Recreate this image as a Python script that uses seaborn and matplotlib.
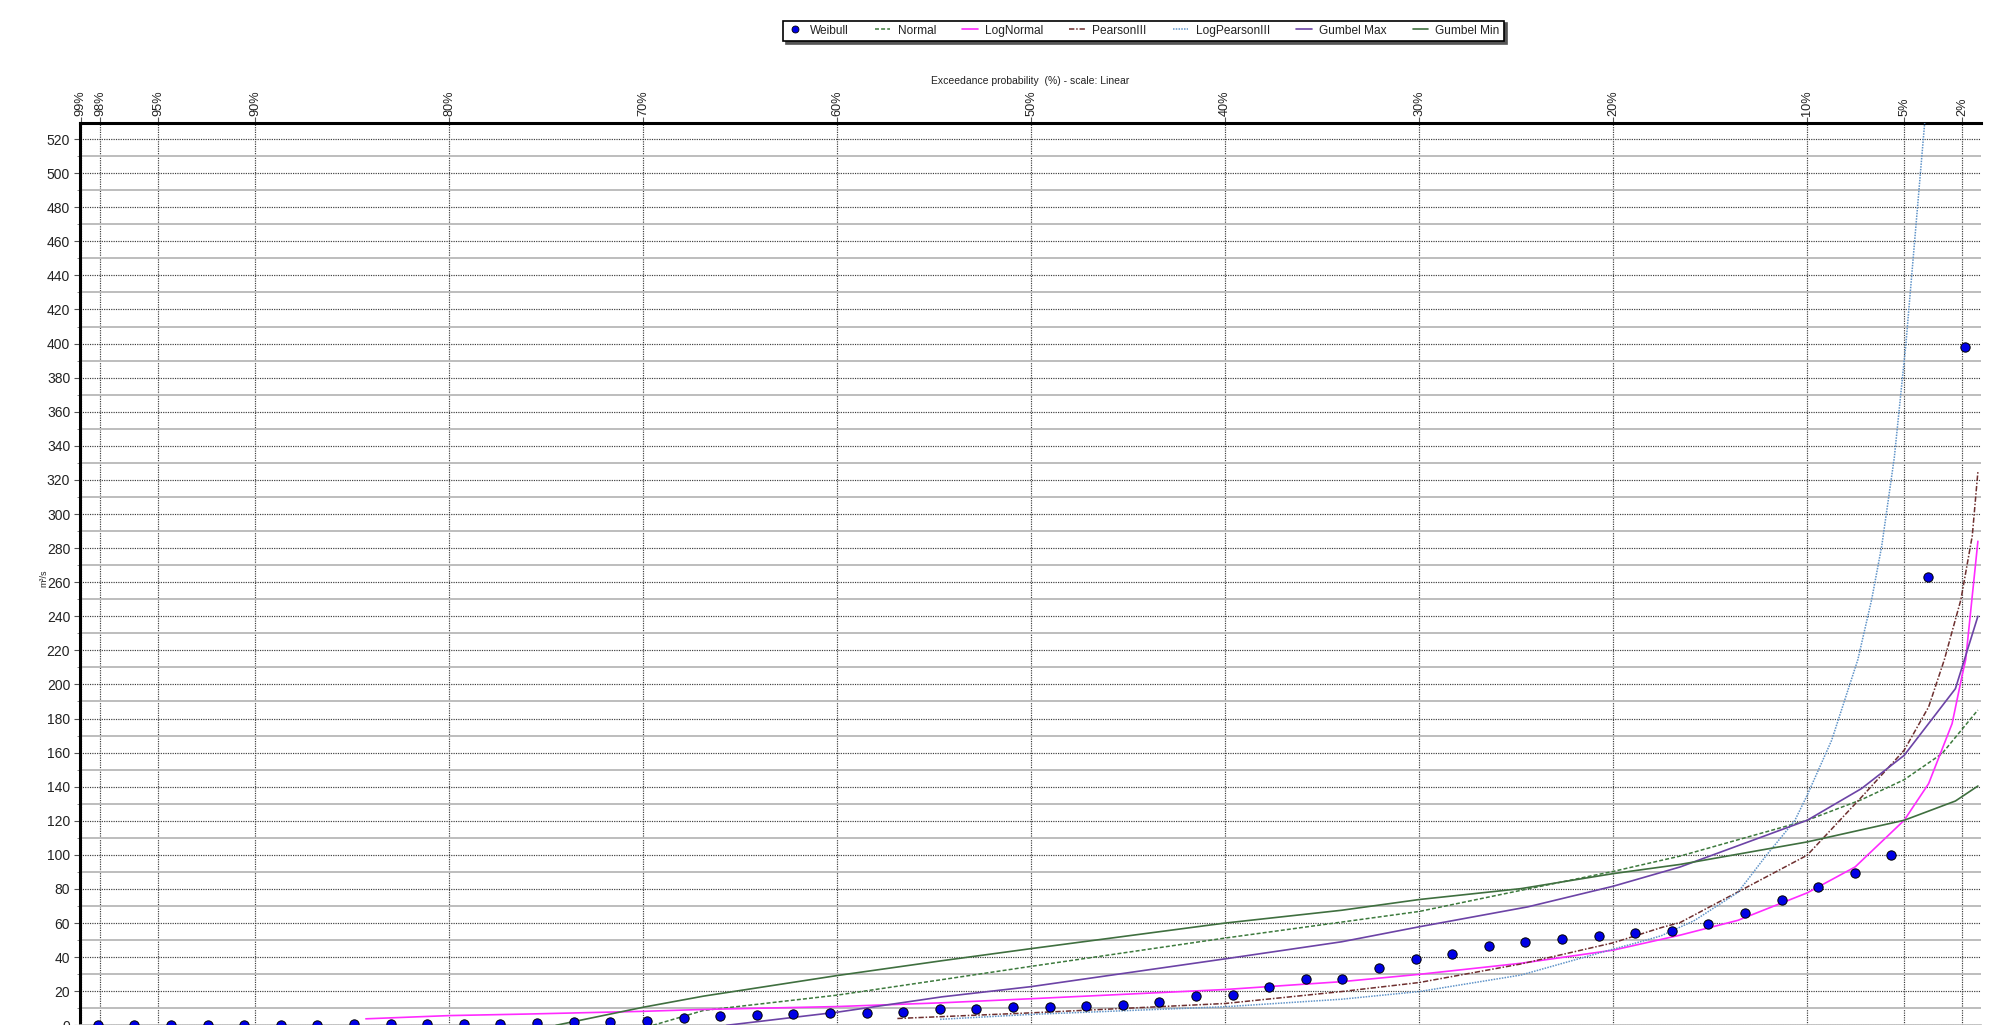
import matplotlib
matplotlib.use("Agg")
import matplotlib.pyplot as plt
from matplotlib.lines import Line2D
import seaborn as sns

# Ranked observed flows (m³/s), largest first; Weibull plotting position m/(n+1)
weibull_q = [398, 263, 100, 89.5, 81.3, 73.6, 66, 59.2, 55.1, 54.3, 52.3, 50.8,
             48.8, 46.8, 42, 39, 33.6, 27.4, 27.4, 22.7, 17.7, 17, 13.5, 12.2,
             11.5, 11, 11, 9.4, 9.4, 7.9, 7.3, 7.3, 6.7, 6.0, 5.3, 4, 2.5, 2,
             2, 1.3, 1, 1, 1, 1, 1, 0, 0, 0, 0, 0, 0, 0]
n_obs = len(weibull_q)
weibull_p = [100.0 * (m + 1) / (n_obs + 1) for m in range(n_obs)]

# Fitted distributions: exceedance probability (%) and flow (m³/s)
normal_p = [69.5, 66.9, 60, 54.6, 50, 40, 30, 24.75, 20, 16.55, 10, 7.2, 5, 3.05, 1.2]
normal_q = [0, 8.7, 17.7, 26.8, 34.6, 51.2, 66.8, 79.2, 90.3, 99.3, 120.3, 132.4, 144.1, 159.4, 185]

lognormal_p = [84.3, 80, 76, 70, 66.9, 60, 54.6, 50, 40, 34, 30, 24.75, 20, 16.55,
               13.57, 10, 7.53, 5, 3.74, 2.53, 2.0, 1.83, 1.2]
lognormal_q = [3.8, 5.7, 6.6, 8.2, 9.3, 11, 13.2, 15.6, 21, 25.6, 29.9, 36.4, 44.1, 52.9,
               61.6, 77.7, 92.9, 120.3, 141.8, 177, 206, 214.5, 284]

pearson3_p = [56.9, 50, 40, 34, 30, 24.75, 20, 17.53, 16.55, 10, 7.19, 5, 3.74, 2.93,
              2.08, 1.49, 1.2]
pearson3_q = [4.0, 7.3, 12.8, 19.8, 25.1, 36, 48.4, 57.3, 60.3, 99.8, 134, 161.4, 186.8,
              214.5, 249.6, 287.2, 324.8]

logpearson3_p = [54.7, 50, 40, 34, 30, 24.75, 20.48, 18.6, 17.53, 15.81, 13.57, 12.1,
                 10.64, 10, 8.74, 7.39, 6.68, 6.16, 5.51, 4.91, 3.94]
logpearson3_q = [3.5, 6.4, 10.9, 15.3, 19.8, 29.5, 43.2, 49, 52.5, 61.5, 78, 99.8,
                 120.1, 135, 167.2, 214.5, 249.6, 281, 333, 400, 530]

gumbel_max_p = [65.7, 60, 54.6, 50, 40, 34, 30, 24.4, 20, 16.55, 10, 7.2, 5, 2.36, 1.2]
gumbel_max_q = [0, 7.7, 16.7, 22.7, 39, 49, 57.8, 69.5, 81.6, 92.9, 120.3, 138.9, 158.4, 197.5, 240]

gumbel_min_p = [74.5, 70, 66.9, 60, 54.6, 50, 40, 34, 30, 24.75, 20, 16.55, 10, 5, 2.36, 1.2]
gumbel_min_q = [0, 10.6, 17.1, 29.2, 37.9, 45, 60, 67.5, 73.8, 80.2, 89, 94.4, 107.6, 120.3, 131.6, 140.4]

x_ticks = [99, 98, 95, 90, 80, 70, 60, 50, 40, 30, 20, 10, 5, 2]
x_tick_labels = [f"{t}%" for t in x_ticks]
y_ticks = list(range(0, 521, 20))
y_minor = list(range(10, 530, 20))

sns.set_theme(style="white")
plt.rcParams["font.family"] = ["Liberation Sans", "DejaVu Sans"]

W, H = 2005, 1025
fig = plt.figure(figsize=(W / 100, H / 100), dpi=100)
ax_l, ax_r, ax_t, ax_b = 79.9, 1981.0, 122.7, 1025.3
ax = fig.add_axes([ax_l / W, 1 - ax_b / H, (ax_r - ax_l) / W, (ax_b - ax_t) / H])

series = [
    ("Normal", normal_p, normal_q, dict(color="#3d7a3d", linestyle=(0, (2.6, 1.4)), linewidth=1.1)),
    ("LogNormal", lognormal_p, lognormal_q, dict(color="#ff2bff", linestyle="-", linewidth=1.2)),
    ("PearsonIII", pearson3_p, pearson3_q, dict(color="#6e2f2f", linestyle=(0, (3.5, 1.2, 1, 1.2)), linewidth=1.1)),
    ("LogPearsonIII", logpearson3_p, logpearson3_q, dict(color="#5f93c8", linestyle=(0, (1, 0.8)), linewidth=1.1)),
    ("Gumbel Max", gumbel_max_p, gumbel_max_q, dict(color="#6c43a6", linestyle="-", linewidth=1.2)),
    ("Gumbel Min", gumbel_min_p, gumbel_min_q, dict(color="#3f6f3f", linestyle="-", linewidth=1.2)),
]

for name, p, q, style in series:
    sns.lineplot(x=p, y=q, ax=ax, estimator=None, sort=False, zorder=3, **style)

sns.scatterplot(x=weibull_p, y=weibull_q, ax=ax, color="#0000e6", edgecolor="black",
                linewidth=0.7, s=45, zorder=5, clip_on=True)

ax.set_xlim(99.04, 1.04)
ax.set_ylim(0, 529.6)

ax.xaxis.tick_top()
ax.set_xticks(x_ticks)
ax.set_xticklabels(x_tick_labels, rotation=90)
ax.set_yticks(y_ticks)
ax.set_yticks(y_minor, minor=True)
ax.set_yticklabels([str(v) for v in y_ticks])

ax.tick_params(axis="x", which="major", top=True, bottom=False, labeltop=True,
               labelbottom=False, direction="out", length=4, width=0.8, pad=1,
               labelsize=9.2, colors="#555555", labelcolor="#222222")
ax.tick_params(axis="y", which="major", left=True, direction="out", length=4,
               width=0.8, pad=3, labelsize=10, colors="#555555", labelcolor="#222222")
ax.tick_params(axis="y", which="minor", left=True, direction="out", length=2,
               width=0.6, colors="#777777")

ax.set_axisbelow(True)
ax.grid(which="major", axis="y", color="#3c3c3c", linestyle=(0, (1, 1)), linewidth=0.85)
ax.grid(which="minor", axis="y", color="#bdbdbd", linestyle="-", linewidth=1.4)
ax.grid(which="major", axis="x", color="#3c3c3c", linestyle=(0, (1, 1)), linewidth=0.85)

for side in ("left", "top"):
    ax.spines[side].set_color("black")
    ax.spines[side].set_linewidth(2.2)
ax.spines["right"].set_visible(False)
ax.spines["bottom"].set_color("#bbbbbb")
ax.spines["bottom"].set_linewidth(1.2)

ax.set_xlabel("Exceedance probability  (%) - scale: Linear", fontsize=7.5,
              color="#222222", va="center")
ax.xaxis.set_label_position("top")
ax.xaxis.set_label_coords(0.5, (ax_b - 84) / (ax_b - ax_t))
ax.set_ylabel("m³/s", fontsize=6.5, color="#222222", va="center")
ax.yaxis.set_label_coords((43.5 - ax_l) / (ax_r - ax_l), (ax_b - 578) / (ax_b - ax_t))

handles = [Line2D([], [], marker="o", linestyle="none", markerfacecolor="#0000e6",
                  markeredgecolor="black", markersize=5, markeredgewidth=0.6)]
labels = ["Weibull"]
for name, p, q, style in series:
    handles.append(Line2D([], [], **style))
    labels.append(name)

leg = ax.legend(handles, labels, ncol=7, loc="upper left",
                bbox_to_anchor=(783 / W, 1 - 20.5 / H), bbox_transform=fig.transFigure,
                frameon=True, fancybox=False, shadow={"color": "#555555", "alpha": 1.0},
                borderaxespad=0, fontsize=8.6, handlelength=1.3, handletextpad=0.6,
                columnspacing=2.2, borderpad=0.35)
leg.get_frame().set_edgecolor("black")
leg.get_frame().set_linewidth(1.2)
leg.get_frame().set_facecolor("white")
for t in leg.get_texts():
    t.set_color("#222222")

fig.savefig("out.png", dpi=100)
